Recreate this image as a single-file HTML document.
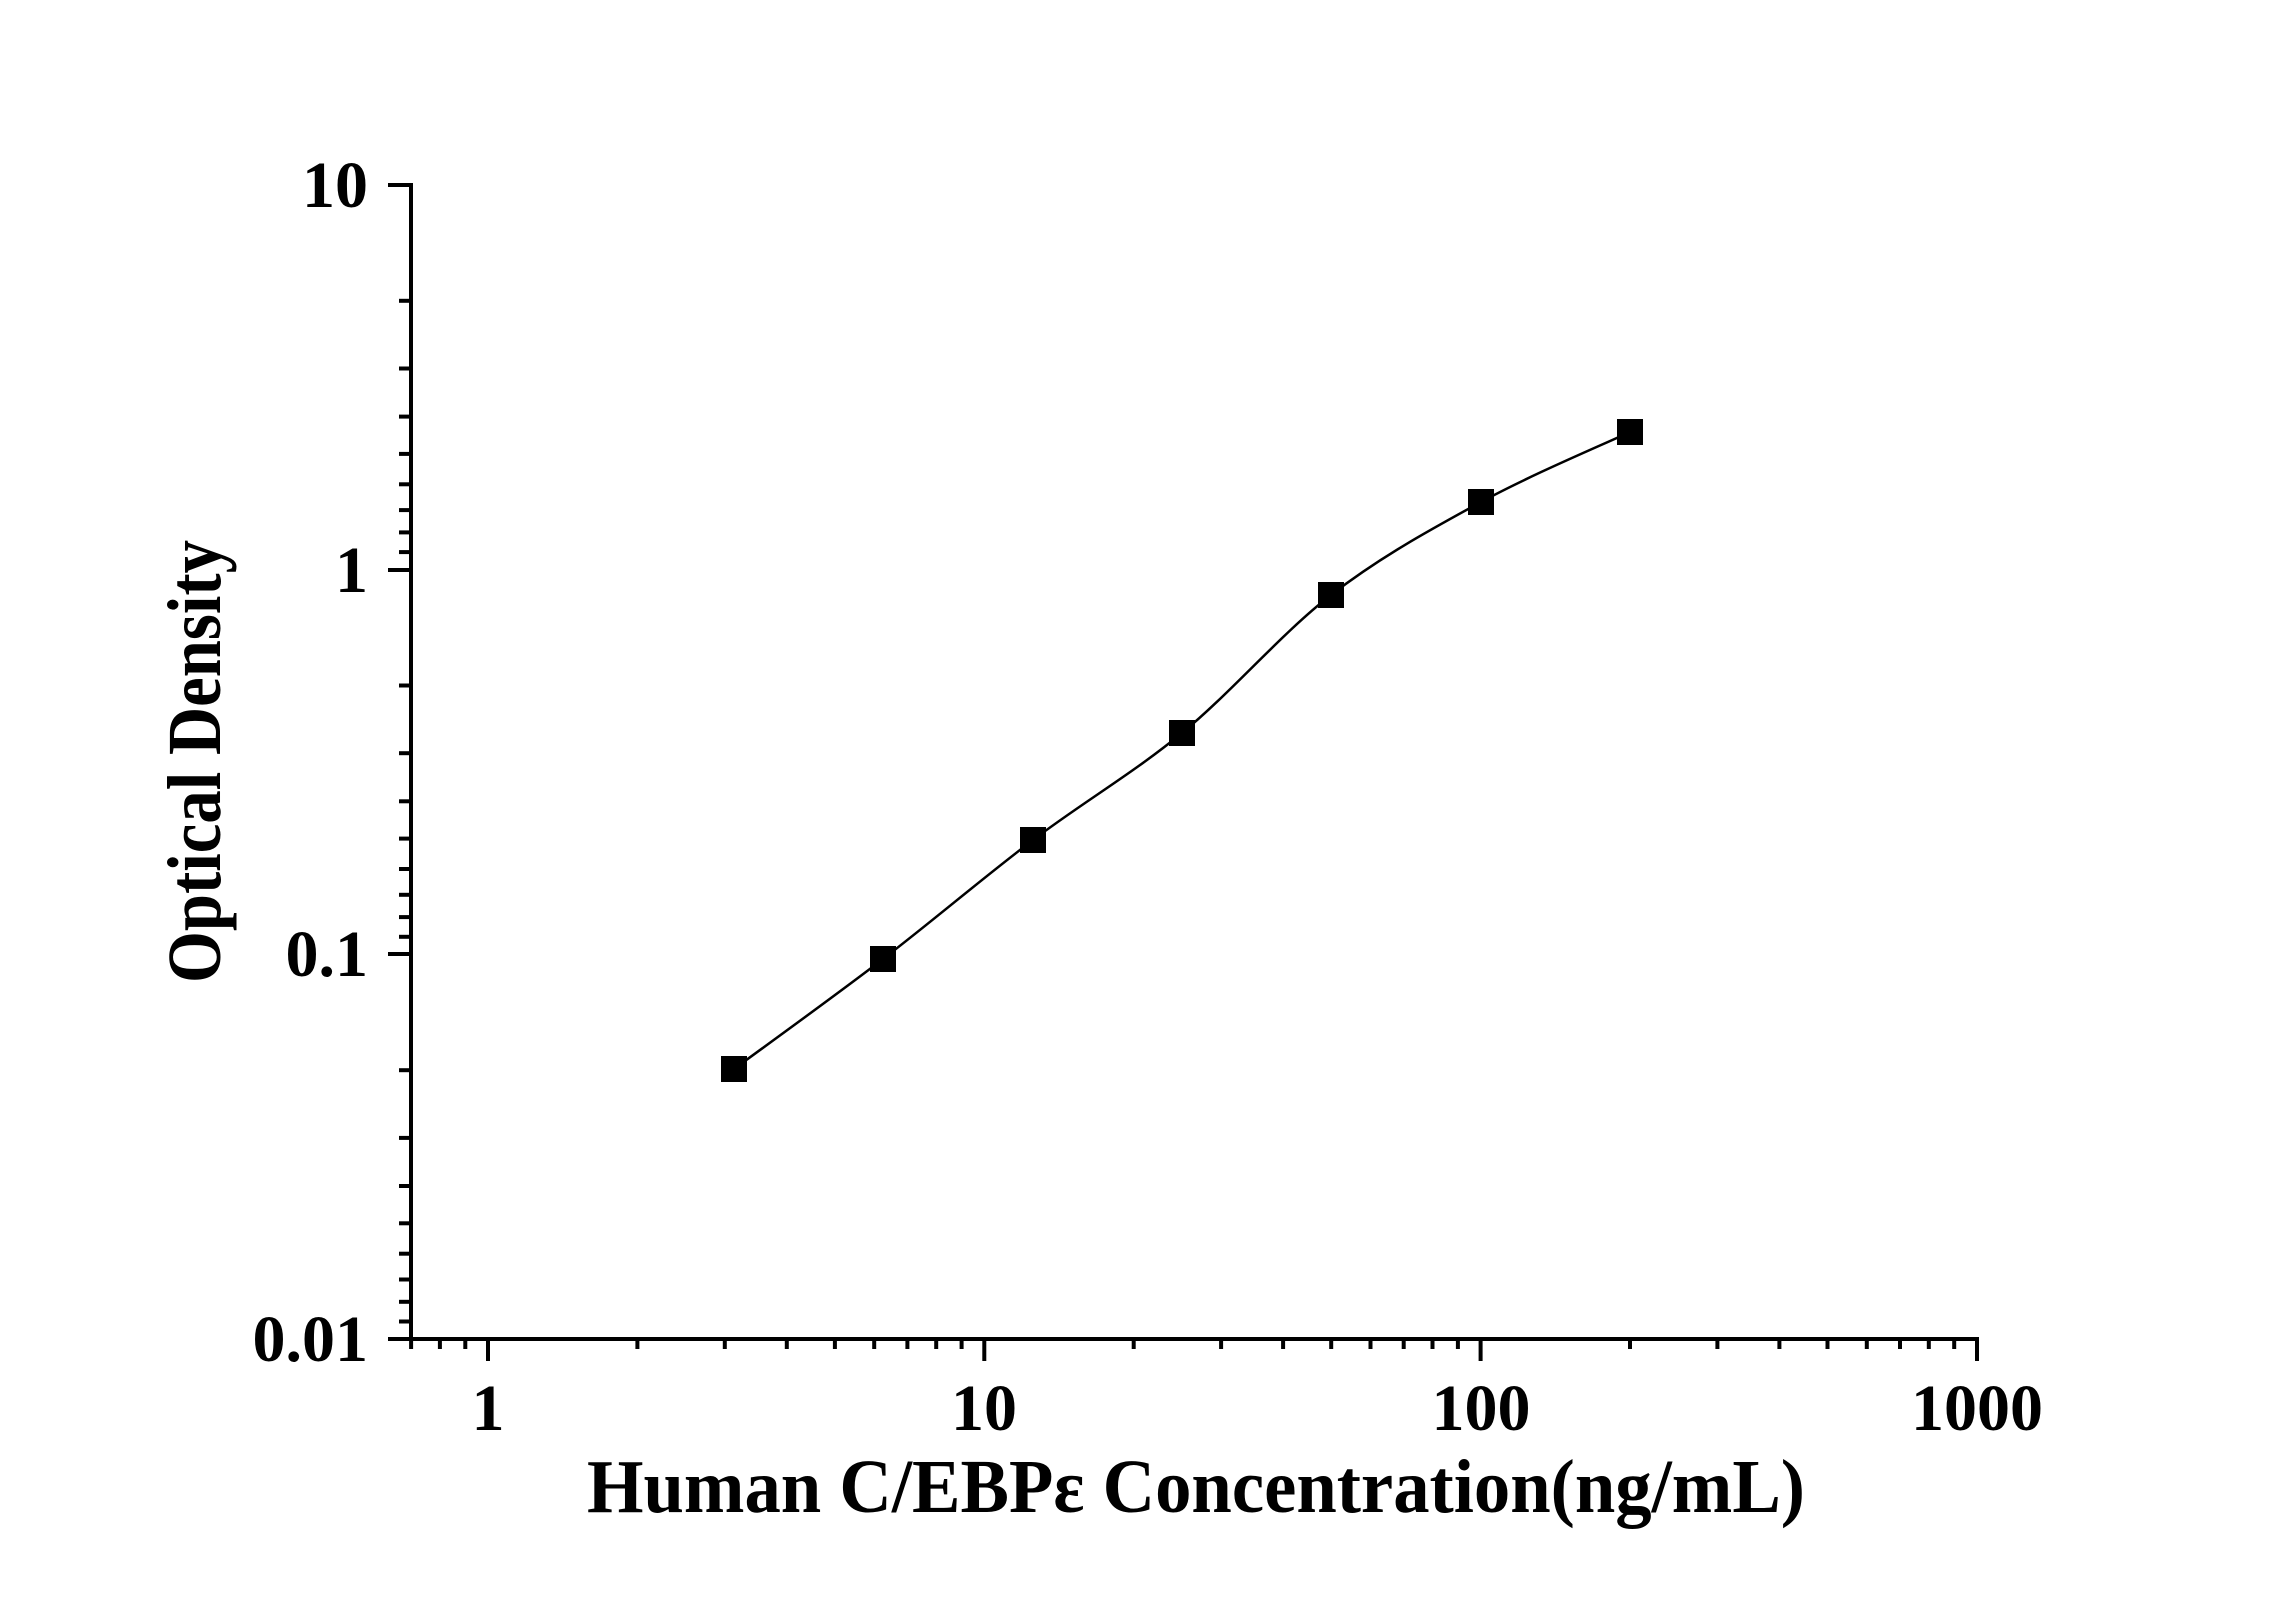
<!DOCTYPE html>
<html><head><meta charset="utf-8"><style>
html,body{margin:0;padding:0;background:#fff;}
svg{display:block;}
text{font-family:"Liberation Serif",serif;font-weight:bold;fill:#000;}
</style></head><body>
<svg width="2296" height="1604" viewBox="0 0 2296 1604" xmlns="http://www.w3.org/2000/svg">
<g stroke="#000" stroke-width="4" fill="none">
<line x1="411" y1="183" x2="411" y2="1341"/>
<line x1="388" y1="1339" x2="1979" y2="1339"/>
<line x1="388" y1="185" x2="411" y2="185"/>
<line x1="388" y1="570" x2="411" y2="570"/>
<line x1="388" y1="954" x2="411" y2="954"/>
<line x1="399" y1="300.8" x2="411" y2="300.8"/>
<line x1="399" y1="368.5" x2="411" y2="368.5"/>
<line x1="399" y1="416.6" x2="411" y2="416.6"/>
<line x1="399" y1="453.9" x2="411" y2="453.9"/>
<line x1="399" y1="484.3" x2="411" y2="484.3"/>
<line x1="399" y1="510.1" x2="411" y2="510.1"/>
<line x1="399" y1="532.4" x2="411" y2="532.4"/>
<line x1="399" y1="552.1" x2="411" y2="552.1"/>
<line x1="399" y1="685.5" x2="411" y2="685.5"/>
<line x1="399" y1="753.2" x2="411" y2="753.2"/>
<line x1="399" y1="801.3" x2="411" y2="801.3"/>
<line x1="399" y1="838.6" x2="411" y2="838.6"/>
<line x1="399" y1="869.0" x2="411" y2="869.0"/>
<line x1="399" y1="894.8" x2="411" y2="894.8"/>
<line x1="399" y1="917.1" x2="411" y2="917.1"/>
<line x1="399" y1="936.8" x2="411" y2="936.8"/>
<line x1="399" y1="1070.2" x2="411" y2="1070.2"/>
<line x1="399" y1="1137.9" x2="411" y2="1137.9"/>
<line x1="399" y1="1186.0" x2="411" y2="1186.0"/>
<line x1="399" y1="1223.3" x2="411" y2="1223.3"/>
<line x1="399" y1="1253.7" x2="411" y2="1253.7"/>
<line x1="399" y1="1279.5" x2="411" y2="1279.5"/>
<line x1="399" y1="1301.8" x2="411" y2="1301.8"/>
<line x1="399" y1="1321.5" x2="411" y2="1321.5"/>
<line x1="488.0" y1="1339" x2="488.0" y2="1361"/>
<line x1="984.3" y1="1339" x2="984.3" y2="1361"/>
<line x1="1480.6" y1="1339" x2="1480.6" y2="1361"/>
<line x1="1977" y1="1339" x2="1977" y2="1361"/>
<line x1="411.1" y1="1339" x2="411.1" y2="1349"/>
<line x1="439.9" y1="1339" x2="439.9" y2="1349"/>
<line x1="465.3" y1="1339" x2="465.3" y2="1349"/>
<line x1="637.4" y1="1339" x2="637.4" y2="1349"/>
<line x1="724.8" y1="1339" x2="724.8" y2="1349"/>
<line x1="786.8" y1="1339" x2="786.8" y2="1349"/>
<line x1="834.9" y1="1339" x2="834.9" y2="1349"/>
<line x1="874.2" y1="1339" x2="874.2" y2="1349"/>
<line x1="907.4" y1="1339" x2="907.4" y2="1349"/>
<line x1="936.2" y1="1339" x2="936.2" y2="1349"/>
<line x1="961.6" y1="1339" x2="961.6" y2="1349"/>
<line x1="1133.7" y1="1339" x2="1133.7" y2="1349"/>
<line x1="1221.1" y1="1339" x2="1221.1" y2="1349"/>
<line x1="1283.1" y1="1339" x2="1283.1" y2="1349"/>
<line x1="1331.2" y1="1339" x2="1331.2" y2="1349"/>
<line x1="1370.5" y1="1339" x2="1370.5" y2="1349"/>
<line x1="1403.7" y1="1339" x2="1403.7" y2="1349"/>
<line x1="1432.5" y1="1339" x2="1432.5" y2="1349"/>
<line x1="1457.9" y1="1339" x2="1457.9" y2="1349"/>
<line x1="1630.0" y1="1339" x2="1630.0" y2="1349"/>
<line x1="1717.4" y1="1339" x2="1717.4" y2="1349"/>
<line x1="1779.4" y1="1339" x2="1779.4" y2="1349"/>
<line x1="1827.5" y1="1339" x2="1827.5" y2="1349"/>
<line x1="1866.8" y1="1339" x2="1866.8" y2="1349"/>
<line x1="1900.0" y1="1339" x2="1900.0" y2="1349"/>
<line x1="1928.8" y1="1339" x2="1928.8" y2="1349"/>
<line x1="1954.2" y1="1339" x2="1954.2" y2="1349"/>
</g>
<path d="M734,1069 C758.8,1050.7 833.2,997.2 883,959 C932.8,920.8 983.2,877.7 1033,840 C1082.8,802.3 1132.3,773.8 1182,733 C1231.7,692.2 1281.2,633.5 1331,595 C1380.8,556.5 1431.2,529.2 1481,502 C1530.8,474.8 1605.2,443.7 1630,432" fill="none" stroke="#000" stroke-width="2.5"/>
<g fill="#000">
<rect x="721" y="1056" width="26" height="26"/>
<rect x="870" y="946" width="26" height="26"/>
<rect x="1020" y="827" width="26" height="26"/>
<rect x="1169" y="720" width="26" height="26"/>
<rect x="1318" y="582" width="26" height="26"/>
<rect x="1468" y="489" width="26" height="26"/>
<rect x="1617" y="419" width="26" height="26"/>
</g>
<g font-size="66" text-anchor="end">
<text x="368" y="207">10</text>
<text x="368" y="592">1</text>
<text x="368" y="976">0.1</text>
<text x="368" y="1361">0.01</text>
</g>
<g font-size="66" text-anchor="middle">
<text x="488" y="1430">1</text>
<text x="984" y="1430">10</text>
<text x="1481" y="1430">100</text>
<text x="1977" y="1430">1000</text>
</g>
<text x="587" y="1512" font-size="76" textLength="1218" lengthAdjust="spacingAndGlyphs">Human C/EBPε Concentration(ng/mL)</text>
<text transform="translate(220,983) rotate(-90)" font-size="76" textLength="443" lengthAdjust="spacingAndGlyphs">Optical Density</text>
</svg>
</body></html>
